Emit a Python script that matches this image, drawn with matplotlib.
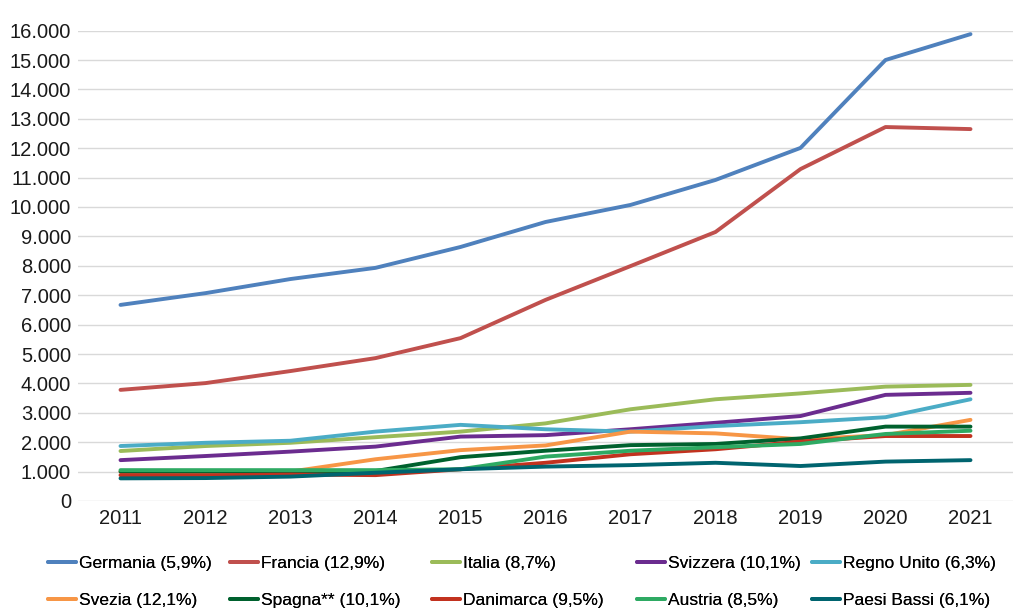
import matplotlib.pyplot as plt
from matplotlib.ticker import FuncFormatter, MultipleLocator

plt.rcParams['font.family'] = ['Liberation Sans', 'DejaVu Sans']

anni = [2011, 2012, 2013, 2014, 2015, 2016, 2017, 2018, 2019, 2020, 2021]

germania = [6670, 7070, 7550, 7930, 8640, 9490, 10070, 10920, 12010, 15000, 15880]
francia = [3780, 4010, 4420, 4860, 5540, 6840, 7990, 9150, 11290, 12720, 12650]
italia = [1700, 1870, 1980, 2170, 2360, 2640, 3120, 3460, 3660, 3890, 3950]
svizzera = [1390, 1530, 1680, 1850, 2190, 2240, 2440, 2660, 2890, 3610, 3680]
regno_unito = [1870, 1980, 2050, 2360, 2590, 2440, 2360, 2550, 2680, 2850, 3460]
svezia = [1000, 1000, 1000, 1420, 1730, 1890, 2360, 2300, 2100, 2240, 2760]
spagna = [1000, 1000, 1000, 1020, 1490, 1710, 1900, 1940, 2130, 2530, 2530]
danimarca = [880, 875, 900, 880, 1080, 1300, 1590, 1760, 2020, 2210, 2210]
austria = [1050, 1050, 1050, 1050, 1080, 1510, 1710, 1830, 1940, 2280, 2390]
paesi_bassi = [770, 780, 830, 960, 1080, 1170, 1220, 1300, 1190, 1340, 1390]

serie = [
    ('Germania (5,9%)', germania, '#4F81BD'),
    ('Francia (12,9%)', francia, '#C0504D'),
    ('Italia (8,7%)', italia, '#9BBB59'),
    ('Svizzera (10,1%)', svizzera, '#6B2C8F'),
    ('Regno Unito (6,3%)', regno_unito, '#4BACC6'),
    ('Svezia (12,1%)', svezia, '#F79646'),
    ('Spagna** (10,1%)', spagna, '#00612E'),
    ('Danimarca (9,5%)', danimarca, '#C2321F'),
    ('Austria (8,5%)', austria, '#2EAA63'),
    ('Paesi Bassi (6,1%)', paesi_bassi, '#00646F'),
]

W, H = 1013, 611
fig = plt.figure(figsize=(W / 100, H / 100), dpi=100)
ax = fig.add_axes([78 / W, 1 - 501 / H, 1 - 78 / W, (501 - 30.6) / H])

x = list(range(len(anni)))
linee = []
for nome, valori, colore in serie:
    l, = ax.plot(x, valori, color=colore, lw=2.8, label=nome, solid_capstyle='round')
    linee.append(l)

ax.set_xlim(-0.5, len(anni) - 0.5)
ax.set_ylim(0, 16000)
ax.set_xticks(x)
ax.set_xticklabels([str(a) for a in anni])
ax.yaxis.set_major_locator(MultipleLocator(1000))
ax.yaxis.set_major_formatter(FuncFormatter(lambda v, p: f"{v:,.0f}".replace(',', '.')))
ax.grid(axis='y', color='#D9D9D9', lw=1)
ax.set_axisbelow(True)
for s in ax.spines.values():
    s.set_visible(False)
ax.tick_params(length=0, labelsize=14.5, colors='#1a1a1a')
ax.tick_params(axis='y', pad=5)
ax.tick_params(axis='x', pad=6)

# legenda: 5 colonne, due righe (riga per riga come in Excel)
colonne_px = [48, 230, 432, 637, 812]
for c, xp in enumerate(colonne_px):
    idx = [c, c + 5]
    leg = fig.legend([linee[i] for i in idx], [serie[i][0] for i in idx],
                     loc='upper left', bbox_to_anchor=(xp / W, 1 - 556 / H),
                     frameon=False, fontsize=12.5, handlelength=1.6,
                     handletextpad=0.2, borderpad=0, borderaxespad=0,
                     labelspacing=1.25)
    fig.add_artist(leg)

fig.savefig('out.png', dpi=100)
